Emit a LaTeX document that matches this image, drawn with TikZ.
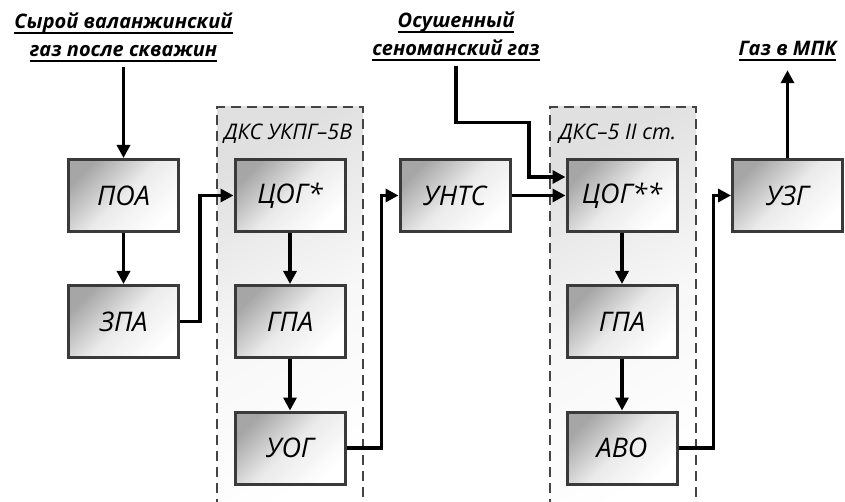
\documentclass[tikz,border=0pt]{standalone}
\usepackage{fontspec}
\setmainfont{Open Sans}
\usetikzlibrary{arrows.meta}
\definecolor{boxline}{HTML}{3A3A3A}
\definecolor{dashline}{HTML}{444444}
\newsavebox{\titlebox}
\newcommand{\undl}[1]{\sbox\titlebox{#1}\rlap{\rule[-5pt]{\wd\titlebox}{2pt}}\usebox\titlebox}
\tikzset{
  unit/.style={
      draw=boxline,
      line width=3pt,
      rectangle,
      minimum width=110pt,
      minimum height=72pt,
      top color=black!35,
      bottom color=white,
      middle color=black!8,
      shading angle=45,
      font=\itshape\fontsize{27}{32}\selectfont
  },
  station/.style={
      draw=dashline,
      line width=2pt,
      dash pattern=on 10pt off 6pt,
      top color=black!12,
      bottom color=white,
      middle color=black!3,
      shading angle=30,
      anchor=north west,
      minimum width=146pt,
      minimum height=420pt
  },
  stationlabel/.style={anchor=base west, inner sep=0, font=\itshape\fontsize{21.5}{25}\selectfont},
  title/.style={anchor=base, inner sep=0, font=\bfseries\itshape\fontsize{20}{24}\selectfont},
  flow/.style={line width=3.3pt, -{Triangle[length=13pt,width=13pt]}}
}
\begin{document}
\begin{tikzpicture}[x=1pt,y=-1pt]
	\useasboundingbox (0,0) rectangle (845,502);
	\node[station] (st1) at (216,106) {};
	\node[station] (st2) at (549,106) {};
	\node[stationlabel] (dks1) at (224,140) {ДКС УКПГ–5В};
	\node[stationlabel] (dks2) at (559,140) {ДКС–5 II ст.};

	\node[title] (raw1) at (123.5,29) {\undl{Сырой валанжинский}};
	\node[title] (raw2) at (123.5,57) {\undl{газ после скважин}};
	\node[title] (dry1) at (456,28) {\undl{Осушенный}};
	\node[title] (dry2) at (456,56) {\undl{сеноманский газ}};
	\node[title] (mpk) at (787.5,56) {\undl{Газ в МПК}};

	\node[unit] (poa) at (123.5,195.5) {ПОА};
	\node[unit] (zpa) at (123.5,321.5) {ЗПА};
	\node[unit] (cog1) at (290,195.5) {ЦОГ*};
	\node[unit] (gpa1) at (290,321.5) {ГПА};
	\node[unit] (uog) at (290,448) {УОГ};
	\node[unit] (unts) at (455,195.5) {УНТС};
	\node[unit] (cog2) at (622,195.5) {ЦОГ**};
	\node[unit] (gpa2) at (622,321.5) {ГПА};
	\node[unit] (avo) at (622,448) {АВО};
	\node[unit] (uzg) at (787.5,195.5) {УЗГ};

	\draw[flow, shorten <=5pt] (raw2) -- (poa);
	\draw[flow] (poa) -- (zpa);
	\draw[flow] (zpa.east) -- ++(20,0) |- (cog1.west);
	\draw[flow] (cog1) -- (gpa1);
	\draw[flow] (gpa1) -- (uog);
	\draw[flow] (uog.east) -- ++(35,0) |- (unts.west);
	\draw[flow] (unts) -- (cog2);
	\draw[flow, shorten <=5pt] (dry2.south) -- ++(0,61) -- ++(73,0) |- ([yshift=18.5pt]cog2.west);
	\draw[flow] (cog2) -- (gpa2);
	\draw[flow] (gpa2) -- (avo);
	\draw[flow] (avo.east) -- ++(35,0) |- (uzg.west);
	\draw[flow, shorten >=9pt] (uzg) -- (mpk);
\end{tikzpicture}
\end{document}
